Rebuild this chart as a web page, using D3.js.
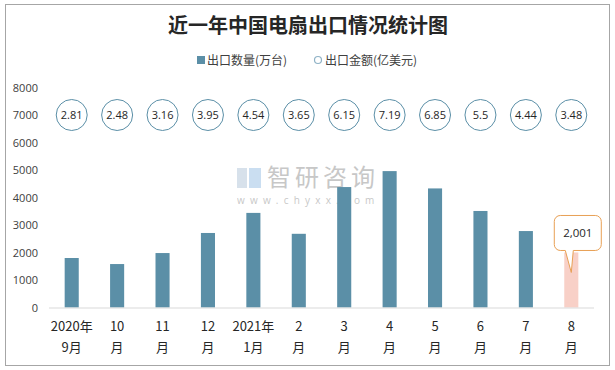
<!DOCTYPE html>
<html><head><meta charset="utf-8">
<script src="https://cdn.jsdelivr.net/npm/d3@7"></script>
<style>
html,body{margin:0;padding:0;background:#fff;}
svg{display:block;}
</style></head>
<body>
<svg id="chart" width="615" height="370"></svg>
<script>
const categories = ["2020年9月","10月","11月","12月","2021年1月","2月","3月","4月","5月","6月","7月","8月"];
const labelLine1 = ["2020年","10","11","12","2021年","2","3","4","5","6","7","8"];
const labelLine2 = ["9月","月","月","月","1月","月","月","月","月","月","月","月"];
const exportQty = [1800, 1580, 1980, 2710, 3440, 2680, 4380, 4960, 4330, 3510, 2780, 2001];
const exportValue = [2.81, 2.48, 3.16, 3.95, 4.54, 3.65, 6.15, 7.19, 6.85, 5.5, 4.44, 3.48];
const valueRowLevel = 7000;
const yTicks = [0,1000,2000,3000,4000,5000,6000,7000,8000];
const highlightIndex = 11;

const svg = d3.select("#chart");
const numFont = "'Open Sans','Noto Sans',sans-serif";
const cjkFont = "'Noto Sans CJK SC','Noto Sans',sans-serif";

// frame
svg.append("rect").attr("x",5.5).attr("y",4.5).attr("width",604).attr("height",361)
  .attr("fill","#fff").attr("stroke","#a6a6a6").attr("stroke-width",1);

// title
svg.append("text").attr("x",308).attr("y",33).attr("text-anchor","middle")
  .attr("font-family","'Noto Sans CJK SC',serif").attr("font-weight","bold")
  .attr("font-size",20).attr("fill","#262626").text("近一年中国电扇出口情况统计图");

// legend
const lg = svg.append("g").attr("font-family",cjkFont).attr("font-size",12).attr("fill","#404040");
lg.append("rect").attr("x",197).attr("y",56).attr("width",8).attr("height",8).attr("fill","#5b8fa7");
lg.append("text").attr("x",207).attr("y",64.5).text("出口数量(万台)");
lg.append("circle").attr("cx",318).attr("cy",60).attr("r",3.5).attr("fill","#fff").attr("stroke","#8fb2c6").attr("stroke-width",1.2);
lg.append("text").attr("x",325).attr("y",64.5).text("出口金额(亿美元)");

const x = d3.scaleBand().domain(categories).range([49,594]).paddingInner(0.69).paddingOuter(0.345);
const y = d3.scaleLinear().domain([0,8000]).range([307.5,87.5]);

// watermark
const wm = svg.append("g").attr("opacity",0.55);
wm.append("rect").attr("x",237).attr("y",168).attr("width",10).attr("height",20).attr("fill","#b7c9dc");
wm.append("rect").attr("x",249).attr("y",168).attr("width",12).attr("height",20).attr("fill","#9fc4e6");
wm.append("text").attr("x",267).attr("y",186).attr("font-family",cjkFont).attr("font-size",24)
  .attr("fill","#9a9a9a").attr("letter-spacing",4).text("智研咨询");
wm.append("text").attr("x",237).attr("y",204).attr("font-family",numFont).attr("font-size",10)
  .attr("fill","#9a9a9a").attr("letter-spacing",5.2).text("www.chyxx.com");

// y axis labels
svg.append("g").selectAll("text").data(yTicks).join("text")
  .attr("x",38).attr("y",d=>y(d)+4).attr("text-anchor","end")
  .attr("font-family",numFont).attr("font-size",11).attr("fill","#404040").text(d=>d);

// bars
svg.append("g").selectAll("rect").data(exportQty).join("rect")
  .attr("x",(d,i)=>x(categories[i])).attr("width",x.bandwidth())
  .attr("y",d=>y(d)).attr("height",d=>y(0)-y(d))
  .attr("fill",(d,i)=> i===highlightIndex ? "#f8d0c7" : "#5b8fa7");

// baseline
svg.append("line").attr("x1",49).attr("x2",594).attr("y1",y(0)+0.5).attr("y2",y(0)+0.5)
  .attr("stroke","#d9d9d9").attr("stroke-width",1);

// value circles
const cg = svg.append("g");
cg.selectAll("circle").data(exportValue).join("circle")
  .attr("cx",(d,i)=>x(categories[i])+x.bandwidth()/2).attr("cy",y(valueRowLevel))
  .attr("r",15.5).attr("fill","#fff").attr("stroke","#5b8fa7").attr("stroke-width",1);
cg.selectAll("text").data(exportValue).join("text")
  .attr("x",(d,i)=>x(categories[i])+x.bandwidth()/2).attr("y",y(valueRowLevel)+4)
  .attr("text-anchor","middle").attr("font-family",numFont).attr("font-size",11)
  .attr("fill","#262626").text(d=>d);

// x labels
const xl = svg.append("g").attr("font-family",cjkFont).attr("font-size",13).attr("fill","#262626").attr("text-anchor","middle");
categories.forEach((c,i)=>{
  const cx = x(c)+x.bandwidth()/2;
  xl.append("text").attr("x",cx).attr("y",331).text(labelLine1[i]);
  xl.append("text").attr("x",cx).attr("y",352).text(labelLine2[i]);
});

// callout for last bar
const hx = x(categories[highlightIndex])+x.bandwidth()/2;
const hy = y(exportQty[highlightIndex]);
const tipX = hx, tipY = hy + 20;
const bx0 = hx - 17, bx1 = hx + 30, by0 = hy - 37, by1 = hy - 2, r = 6;
const p = d3.path();
p.moveTo(bx0+r,by0);
p.lineTo(bx1-r,by0); p.arcTo(bx1,by0,bx1,by0+r,r);
p.lineTo(bx1,by1-r); p.arcTo(bx1,by1,bx1-r,by1,r);
p.lineTo(hx+2,by1); p.lineTo(tipX,tipY); p.lineTo(hx-6,by1);
p.lineTo(bx0+r,by1); p.arcTo(bx0,by1,bx0,by1-r,r);
p.lineTo(bx0,by0+r); p.arcTo(bx0,by0,bx0+r,by0,r);
p.closePath();
svg.append("path").attr("d",p.toString()).attr("fill","#fff").attr("stroke","#e8a055").attr("stroke-width",1);
svg.append("text").attr("x",(bx0+bx1)/2).attr("y",(by0+by1)/2+4).attr("text-anchor","middle")
  .attr("font-family",numFont).attr("font-size",11.5).attr("fill","#262626")
  .text(d3.format(",")(exportQty[highlightIndex]));
</script>
</body></html>
